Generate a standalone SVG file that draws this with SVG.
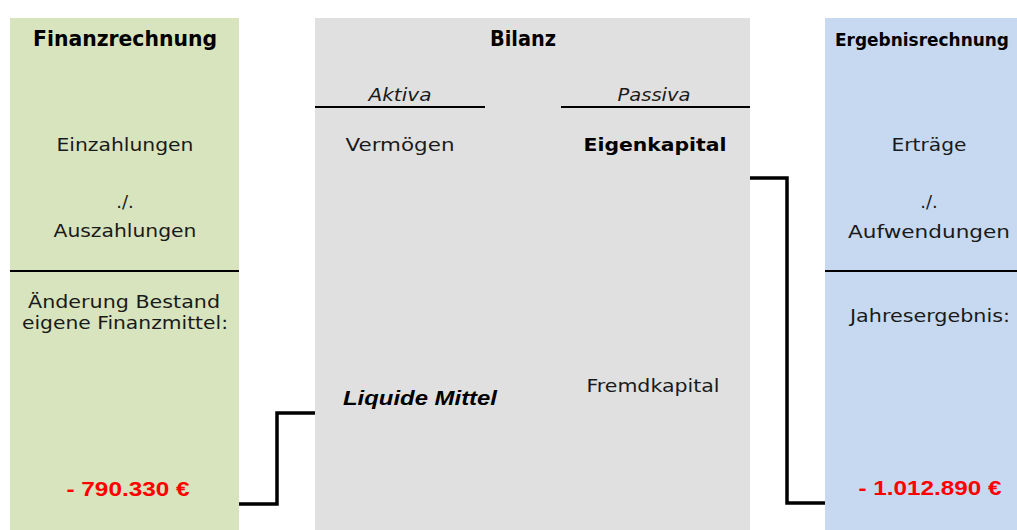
<svg xmlns="http://www.w3.org/2000/svg" width="1017" height="530" viewBox="0 0 1017 530">
  <style>
    .t { font-family: "DejaVu Sans", "Liberation Sans", sans-serif; font-size: 18px; fill: #1a1a1a; text-anchor: middle; }
    .h { font-weight: bold; font-size: 21px; fill: #000; }
    .it { font-style: italic; }
    .b { font-weight: bold; fill: #000; }
    .val { font-family: "Liberation Sans", Arial, sans-serif; font-weight: bold; font-size: 20px; fill: #ff0000; text-anchor: middle; }
    .lm { font-family: "Liberation Sans", Arial, sans-serif; font-weight: bold; font-style: italic; font-size: 20px; fill: #000; text-anchor: middle; }
    .rule { stroke: #000; stroke-width: 2; }
    .link { fill: none; stroke: #000; stroke-width: 3.5; stroke-linejoin: miter; }
  </style>

  <rect width="1017" height="530" fill="#ffffff"/>

  <!-- Finanzrechnung -->
  <g id="finanzrechnung">
    <rect x="10" y="18" width="229" height="512" fill="#d7e4bd"/>
    <text class="t h" x="125" y="46" textLength="184" lengthAdjust="spacingAndGlyphs">Finanzrechnung</text>
    <text class="t" x="125" y="151" textLength="137" lengthAdjust="spacingAndGlyphs">Einzahlungen</text>
    <text class="t" x="125" y="208">./.</text>
    <text class="t" x="125" y="237" textLength="143" lengthAdjust="spacingAndGlyphs">Auszahlungen</text>
    <line class="rule" x1="10" y1="271" x2="239" y2="271"/>
    <text class="t" x="124" y="308" textLength="192" lengthAdjust="spacingAndGlyphs">Änderung Bestand</text>
    <text class="t" x="125" y="329" textLength="206" lengthAdjust="spacingAndGlyphs">eigene Finanzmittel:</text>
    <text class="val" x="128" y="496" textLength="123" lengthAdjust="spacingAndGlyphs">- 790.330 €</text>
  </g>

  <!-- Bilanz -->
  <g id="bilanz">
    <rect x="315" y="18" width="435" height="512" fill="#e0e0e0"/>
    <text class="t h" x="523" y="46" textLength="66" lengthAdjust="spacingAndGlyphs">Bilanz</text>
    <text class="t it" x="400" y="101" textLength="63" lengthAdjust="spacingAndGlyphs">Aktiva</text>
    <text class="t it" x="654" y="101" textLength="73" lengthAdjust="spacingAndGlyphs">Passiva</text>
    <line class="rule" x1="315" y1="107" x2="485" y2="107"/>
    <line class="rule" x1="561" y1="107" x2="750" y2="107"/>
    <text class="t" x="400" y="151" textLength="109" lengthAdjust="spacingAndGlyphs">Vermögen</text>
    <text class="t b" x="655" y="151" font-size="20" textLength="143" lengthAdjust="spacingAndGlyphs">Eigenkapital</text>
    <text class="lm" x="420" y="405" textLength="154" lengthAdjust="spacingAndGlyphs">Liquide Mittel</text>
    <text class="t" x="653" y="392" textLength="133" lengthAdjust="spacingAndGlyphs">Fremdkapital</text>
  </g>

  <!-- Ergebnisrechnung -->
  <g id="ergebnisrechnung">
    <rect x="825" y="18" width="192" height="512" fill="#c6d9f1"/>
    <text class="t b" x="835" y="46" font-size="16" style="text-anchor:start" textLength="174" lengthAdjust="spacingAndGlyphs">Ergebnisrechnung</text>
    <text class="t" x="929" y="151" textLength="75" lengthAdjust="spacingAndGlyphs">Erträge</text>
    <text class="t" x="929" y="208">./.</text>
    <text class="t" x="929" y="238" textLength="162" lengthAdjust="spacingAndGlyphs">Aufwendungen</text>
    <line class="rule" x1="825" y1="271" x2="1017" y2="271"/>
    <text class="t" x="930" y="322" textLength="160" lengthAdjust="spacingAndGlyphs">Jahresergebnis:</text>
    <text class="val" x="930" y="495" textLength="143" lengthAdjust="spacingAndGlyphs">- 1.012.890 €</text>
  </g>

  <!-- connectors -->
  <g id="connectors">
    <polyline class="link" points="239,504 277,504 277,413 315,413"/>
    <polyline class="link" points="750,178 787,178 787,503 825,503"/>
  </g>
</svg>
